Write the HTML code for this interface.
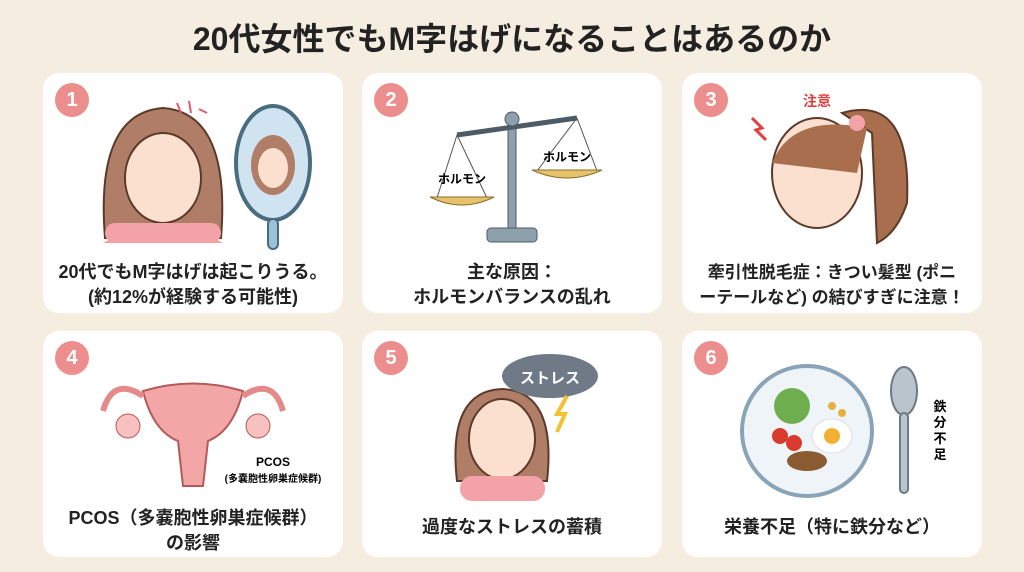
<!DOCTYPE html>
<html><head><meta charset="utf-8"><style>
body{margin:0;width:1024px;height:572px;background:#f5eee0;font-family:"Liberation Sans","Noto Sans CJK JP",sans-serif;position:relative;overflow:hidden}
h1{position:absolute;top:14px;left:0;width:1024px;text-align:center;margin:0;font-size:32px;font-weight:bold;color:#222}
.c{position:absolute;width:300px;background:#fff;border-radius:16px}
.n{position:absolute;left:12px;top:10px;width:34px;height:34px;border-radius:50%;background:#ec8e8e;color:#fff;font-weight:bold;font-size:20px;text-align:center;line-height:34px}
.t{position:absolute;left:0;width:300px;text-align:center;font-weight:bold;font-size:18px;line-height:25px;color:#222}
svg{position:absolute;left:0;top:0}
</style></head><body>
<h1>20代女性でもM字はげになることはあるのか</h1>

<div class="c" style="left:43px;top:73px;height:240px">
<svg width="300" height="240">
<path d="M62 165 Q52 40 120 35 Q188 40 178 165 Z" fill="#b07d66" stroke="#5a3a2a" stroke-width="2"/>
<ellipse cx="120" cy="105" rx="38" ry="45" fill="#fce0cf" stroke="#5a3a2a" stroke-width="2"/>
<path d="M60 170 Q120 135 180 170 Z" fill="#f3a3a8"/>
<rect x="62" y="150" width="116" height="20" rx="10" fill="#f3a3a8"/>
<ellipse cx="230" cy="90" rx="37" ry="57" fill="#cfe4f0" stroke="#4a6c80" stroke-width="4"/>
<ellipse cx="230" cy="92" rx="22" ry="30" fill="#b07d66"/>
<ellipse cx="230" cy="95" rx="15" ry="20" fill="#fce0cf"/>
<rect x="225" y="146" width="10" height="30" rx="5" fill="#9cc3da" stroke="#4a6c80" stroke-width="2"/>
<path d="M134 30 l4 10 M146 28 l2 12 M156 36 l8 4" stroke="#e05a70" stroke-width="2"/>
</svg>
<div class="n">1</div>
<div class="t" style="top:187px">20代でもM字はげは起こりうる。<br>(約12%が経験する可能性)</div>
</div>

<div class="c" style="left:362px;top:73px;height:240px">
<svg width="300" height="240">
<rect x="146" y="40" width="8" height="120" fill="#8ea0ac" stroke="#4d5b66"/>
<rect x="125" y="155" width="50" height="14" rx="4" fill="#8ea0ac" stroke="#4d5b66"/>
<line x1="95" y1="62" x2="215" y2="45" stroke="#4d5b66" stroke-width="5"/>
<circle cx="150" cy="46" r="7" fill="#8ea0ac" stroke="#4d5b66"/>
<line x1="95" y1="62" x2="75" y2="125" stroke="#555"/><line x1="95" y1="62" x2="125" y2="125" stroke="#555"/>
<line x1="215" y1="45" x2="175" y2="98" stroke="#555"/><line x1="215" y1="45" x2="235" y2="98" stroke="#555"/>
<path d="M68 124 Q100 140 132 124 Z" fill="#e6c36a" stroke="#8a6d2a"/>
<path d="M170 97 Q205 113 240 97 Z" fill="#e6c36a" stroke="#8a6d2a"/>
<text x="100" y="110" font-size="12" font-weight="bold" text-anchor="middle">ホルモン</text>
<text x="205" y="88" font-size="12" font-weight="bold" text-anchor="middle">ホルモン</text>
</svg>
<div class="n">2</div>
<div class="t" style="top:187px">主な原因：<br>ホルモンバランスの乱れ</div>
</div>

<div class="c" style="left:682px;top:73px;height:240px">
<svg width="300" height="240">
<path d="M160 40 Q230 20 225 130 Q215 160 195 170 L190 60 Z" fill="#a86e4e" stroke="#5a3a2a" stroke-width="2"/>
<ellipse cx="135" cy="100" rx="45" ry="55" fill="#fce0cf" stroke="#5a3a2a" stroke-width="2"/>
<path d="M90 90 Q110 40 185 55 L175 100 Z" fill="#a86e4e"/>
<circle cx="175" cy="50" r="8" fill="#f3a3a8"/>
<text x="135" y="33" font-size="14" font-weight="bold" fill="#e04040" text-anchor="middle">注意</text>
<path d="M70 45 l10 10 l-6 2 l10 10" stroke="#e04040" stroke-width="3" fill="none"/>
</svg>
<div class="n">3</div>
<div class="t" style="top:187px;font-size:17px">牽引性脱毛症：きつい髪型 (ポニ<br>ーテールなど) の結びすぎに注意！</div>
</div>

<div class="c" style="left:43px;top:331px;height:226px">
<svg width="300" height="226">
<path d="M100 60 Q150 45 200 60 Q190 100 165 110 L160 155 L140 155 L135 110 Q110 100 100 60 Z" fill="#f2a6a6" stroke="#b55a5a" stroke-width="2"/>
<path d="M100 65 Q70 45 60 80" stroke="#e58a8a" stroke-width="6" fill="none"/>
<path d="M200 65 Q230 45 240 80" stroke="#e58a8a" stroke-width="6" fill="none"/>
<circle cx="85" cy="95" r="12" fill="#f6c1bf" stroke="#b55a5a"/>
<circle cx="215" cy="95" r="12" fill="#f6c1bf" stroke="#b55a5a"/>
<text x="230" y="135" font-size="12" font-weight="bold" text-anchor="middle">PCOS</text>
<text x="230" y="151" font-size="10" font-weight="bold" text-anchor="middle">(多嚢胞性卵巣症候群)</text>
</svg>
<div class="n">4</div>
<div class="t" style="top:175px">PCOS（多嚢胞性卵巣症候群）<br>の影響</div>
</div>

<div class="c" style="left:362px;top:331px;height:226px">
<svg width="300" height="226">
<path d="M95 150 Q85 60 140 58 Q195 60 185 150 Z" fill="#b07d66" stroke="#5a3a2a" stroke-width="2"/>
<ellipse cx="140" cy="108" rx="33" ry="40" fill="#fce0cf" stroke="#5a3a2a" stroke-width="2"/>
<rect x="98" y="145" width="85" height="25" rx="12" fill="#f3a3a8"/>
<ellipse cx="188" cy="45" rx="48" ry="22" fill="#707a86"/>
<text x="188" y="52" font-size="15" font-weight="bold" fill="#fff" text-anchor="middle">ストレス</text>
<path d="M205 65 l-10 18 l8 0 l-8 18" stroke="#f2c230" stroke-width="4" fill="none"/>
</svg>
<div class="n">5</div>
<div class="t" style="top:184px">過度なストレスの蓄積</div>
</div>

<div class="c" style="left:682px;top:331px;height:226px">
<svg width="300" height="226">
<circle cx="125" cy="100" r="65" fill="#eef4f8" stroke="#8aa3b6" stroke-width="4"/>
<circle cx="110" cy="75" r="18" fill="#6fae4f"/>
<circle cx="98" cy="105" r="8" fill="#d83a2e"/><circle cx="112" cy="112" r="8" fill="#d83a2e"/>
<ellipse cx="150" cy="105" rx="20" ry="17" fill="#fff" stroke="#ddd"/>
<circle cx="150" cy="105" r="8" fill="#f2b030"/>
<ellipse cx="125" cy="130" rx="20" ry="10" fill="#8a5a30"/>
<circle cx="150" cy="75" r="4" fill="#e4b040"/><circle cx="160" cy="82" r="4" fill="#e4b040"/>
<ellipse cx="222" cy="60" rx="13" ry="24" fill="#b9c4cc" stroke="#6d7a84" stroke-width="2"/>
<rect x="218" y="82" width="8" height="80" rx="4" fill="#b9c4cc" stroke="#6d7a84" stroke-width="2"/>
<text font-size="13" font-weight="bold" x="258" y="80" text-anchor="middle">鉄</text>
<text font-size="13" font-weight="bold" x="258" y="96" text-anchor="middle">分</text>
<text font-size="13" font-weight="bold" x="258" y="112" text-anchor="middle">不</text>
<text font-size="13" font-weight="bold" x="258" y="128" text-anchor="middle">足</text>
</svg>
<div class="n">6</div>
<div class="t" style="top:184px">栄養不足（特に鉄分など）</div>
</div>
</body></html>
